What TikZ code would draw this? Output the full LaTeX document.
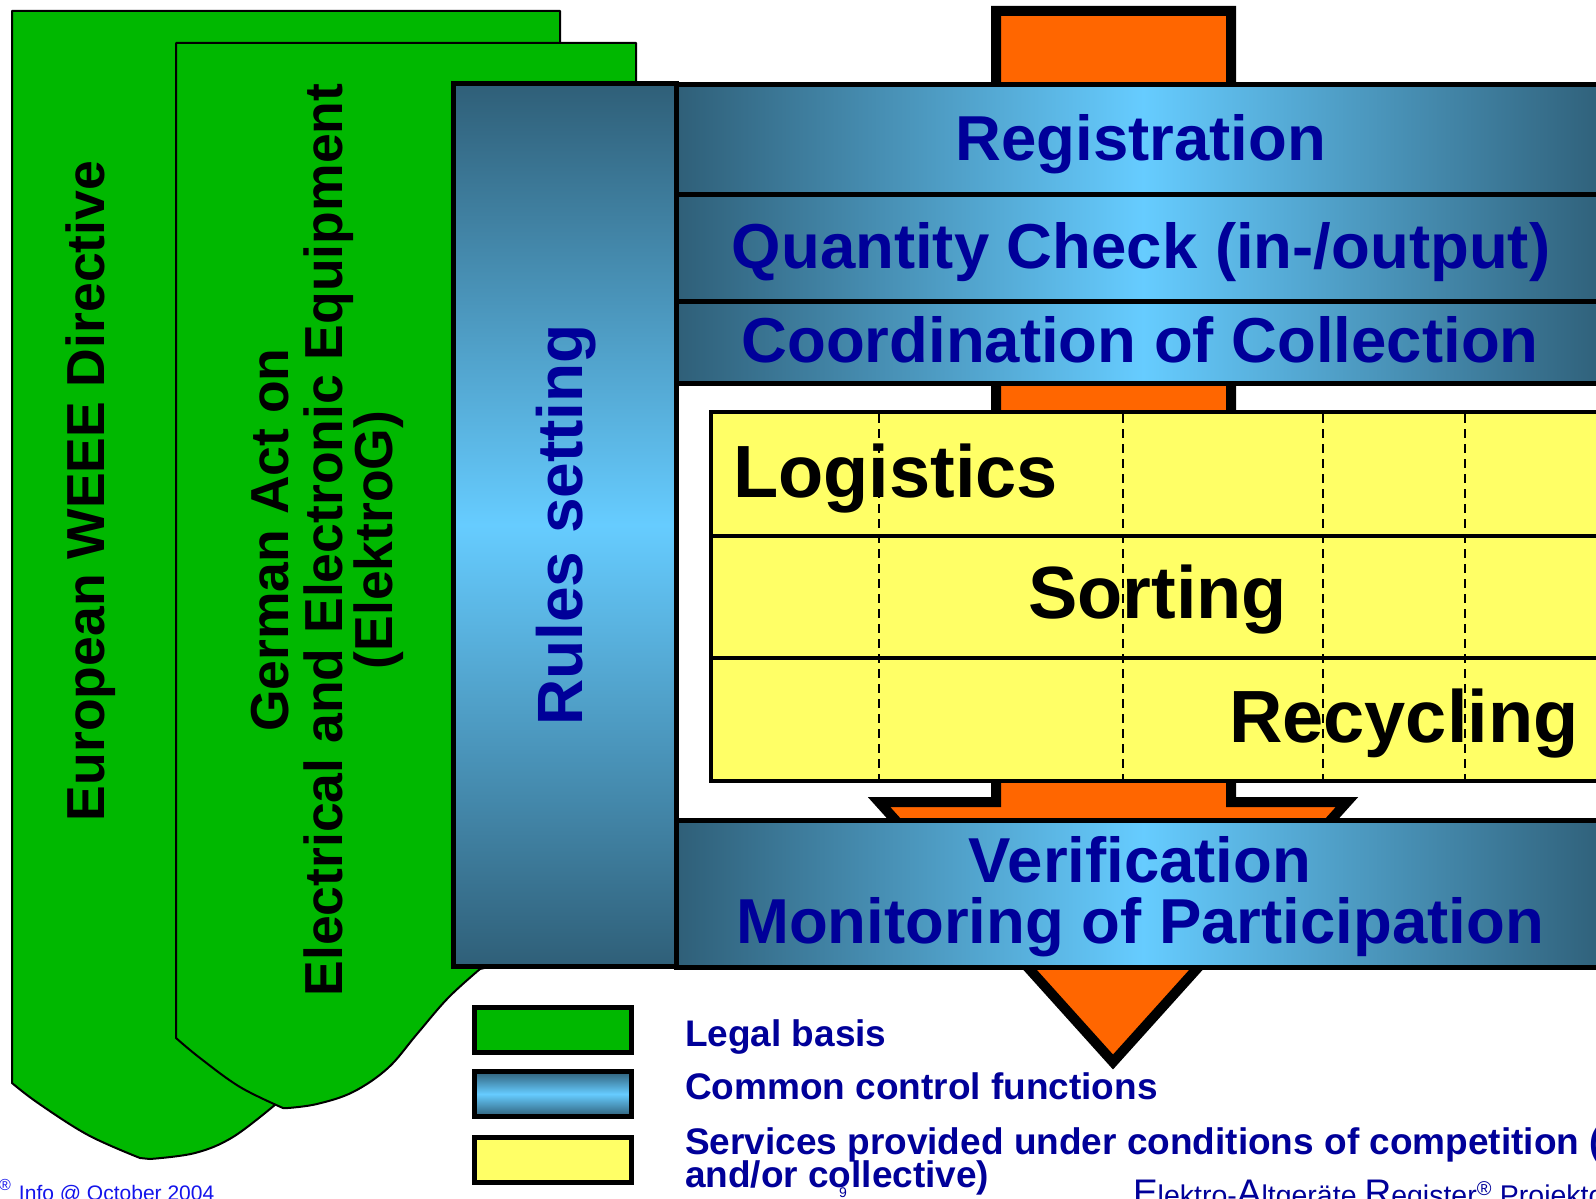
\documentclass[tikz,border=0pt]{standalone}
\usepackage{fontspec}
\setmainfont{Liberation Sans}
\definecolor{grn}{RGB}{0,184,0}
\definecolor{dkb}{RGB}{47,95,120}
\definecolor{ltb}{RGB}{102,204,255}
\definecolor{org}{RGB}{255,102,0}
\definecolor{ylw}{RGB}{255,255,102}
\definecolor{txb}{RGB}{0,0,153}
\definecolor{ftb}{RGB}{20,20,235}
\tikzset{
 lbl/.style={inner sep=0pt, outer sep=0pt},
 bartxt/.style={lbl, anchor=base, text=txb, font=\fontsize{63.5}{70}\selectfont\bfseries},
 yeltxt/.style={lbl, anchor=base west, font=\fontsize{74}{80}\selectfont\bfseries},
 greentxt/.style={lbl, anchor=base, rotate=90, font=\fontsize{53.5}{60}\selectfont\bfseries},
 legtxt/.style={lbl, anchor=base west, text=txb, font=\fontsize{37}{40}\selectfont\bfseries},
 greenshape/.style={fill=grn, draw=black, line width=2pt, line join=round},
 hbar/.style={left color=dkb, right color=dkb, middle color=ltb, draw=black, line width=5pt},
 vbar/.style={top color=dkb, bottom color=dkb, middle color=ltb, draw=black, line width=5pt},
 legbox/.style={draw=black, line width=5pt},
 gridline/.style={draw=black, line width=4pt},
 dashline/.style={draw=black, line width=2pt, dash pattern=on 9pt off 6pt},
}
\begin{document}
\begin{tikzpicture}[x=1pt,y=-1pt]
\useasboundingbox (0,0) rectangle (1596,1199);
\fill[white] (0,0) rectangle (1596,1199);

% green legal-basis shapes
\path[greenshape] (12,11) -- (560,11) -- (560,700) -- (300,1080) -- (276,1104)
  -- plot[smooth, tension=0.6] coordinates {(276,1104) (233,1137) (195,1153) (150,1159)}
  -- plot[smooth, tension=0.6] coordinates {(140,1158) (88,1135) (38,1103) (12,1083)} -- cycle;
\path[greenshape] (176,43) -- (636,43) -- (636,500) -- (560,950) -- (480,969)
  -- plot[smooth, tension=0.6] coordinates {(480,969) (448,998) (417,1034) (388,1068) (353,1092) (317,1104) (288,1108)}
  -- plot[smooth, tension=0.6] coordinates {(283,1108) (240,1087) (200,1058) (176,1038)} -- cycle;

% orange arrow
\path[fill=org, draw=black, line width=10pt, line join=miter, miter limit=10]
  (996,11) -- (1231,11) -- (1231,802) -- (1347,802) -- (1113,1062)
  -- (879,802) -- (996,802) -- cycle;

% rules box
\path[vbar] (453.5,83.5) rectangle (676.5,966.5);

% control bars
\path[hbar] (676.5,84.5) rectangle (1610,194.5);
\path[hbar] (676.5,194.5) rectangle (1610,301);
\path[hbar] (676.5,301) rectangle (1610,383);

% yellow services table
\path[fill=ylw, gridline] (710.5,412) rectangle (1610,781);
\draw[gridline] (710.5,536) -- (1610,536);
\draw[gridline] (710.5,658) -- (1610,658);

\node[yeltxt] (logi) at (733,497) {Logistics};
\node[yeltxt] (sort) at (1028,618) {Sorting};
\node[yeltxt] (recy) at (1229,742) {Recycling};

\foreach \xx in {879,1123,1323,1465}
  \draw[dashline] (\xx,414) -- (\xx,779);

% verification bar
\path[hbar] (676.5,820) rectangle (1610,967);

% bar texts
\node[bartxt] (reg) at (1141,160) {Registration};
\node[bartxt] (qty) at (1141,268) {Quantity Check (in-/output)};
\node[bartxt] (coord) at (1140,362) {Coordination of Collection};
\node[bartxt] (verif) at (1140,882) {Verification};
\node[bartxt] (monit) at (1140,943) {Monitoring of Participation};

% rotated texts
\node[greentxt] (weee) at (104,491) {European WEEE Directive};
\node[greentxt] (ger1) at (288.5,540) {German Act on};
\node[greentxt] (ger2) at (342,540) {Electrical and Electronic Equipment};
\node[greentxt] (ger3) at (392,540) {(ElektroG)};
\node[lbl, anchor=base, rotate=90, text=txb, font=\fontsize{64}{70}\selectfont\bfseries] (rules) at (582,525) {Rules setting};

% legend
\path[legbox, fill=grn] (474.5,1007.5) rectangle (631.5,1052.5);
\path[legbox, top color=dkb, bottom color=dkb, middle color=ltb] (474.5,1071.5) rectangle (631.5,1116.5);
\path[legbox, fill=ylw] (474.5,1137.5) rectangle (631.5,1182.5);
\node[legtxt] (leg1) at (685,1046) {Legal basis};
\node[legtxt] (leg2) at (685,1099) {Common control functions};
\node[legtxt] (leg3a) at (685,1154) {Services provided under conditions of competition (};
\node[legtxt] (leg3b) at (685,1187) {and/or collective)};

% footers
\node[lbl, anchor=base west, text=txb, font=\fontsize{14}{14}\selectfont] (pg) at (839,1197) {9};
\node[lbl, anchor=base west, text=ftb, font=\fontsize{16}{16}\selectfont] (reg0) at (-1,1190) {®};
\node[lbl, anchor=base west, text=ftb, font=\fontsize{21}{21}\selectfont] (info) at (19,1200) {Info @ October 2004};
\node[lbl, anchor=base west, text=txb, font=\fontsize{28.5}{30}\selectfont] (ear) at (1133,1205)
  {{\fontsize{37}{37}\selectfont E}lektro-{\fontsize{37}{37}\selectfont A}ltgeräte {\fontsize{37}{37}\selectfont R}egister\textsuperscript{®} Projekto};
\end{tikzpicture}
\end{document}
